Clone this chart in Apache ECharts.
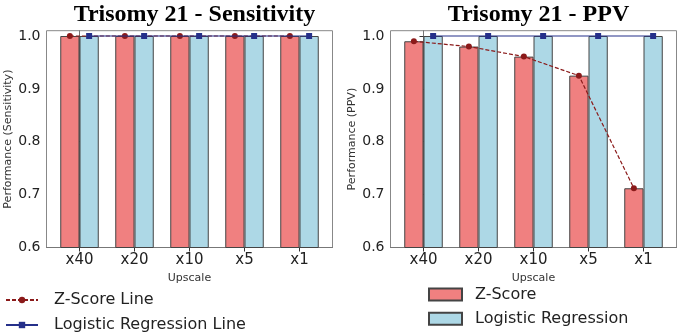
<!DOCTYPE html>
<html>
<head>
<meta charset="utf-8">
<script src="https://cdn.jsdelivr.net/npm/echarts@6/dist/echarts.min.js"></script>
<style>
  html, body { margin: 0; padding: 0; background: #fff; }
  #main { width: 680px; height: 334px; }
</style>
</head>
<body>
<div id="main"></div>
<script>
// data
var categories = ['x40', 'x20', 'x10', 'x5', 'x1'];
var sensZScore = [1.0, 1.0, 1.0, 1.0, 1.0];
var sensLogReg = [1.0, 1.0, 1.0, 1.0, 1.0];
var ppvZScore = [0.99, 0.98, 0.961, 0.925, 0.712];
var ppvLogReg = [1.0, 1.0, 1.0, 1.0, 1.0];
var yTicks = [0.6, 0.7, 0.8, 0.9, 1.0];

var RED = '#f08080', BLUE = '#add8e6';
var ZLINE = '#8b1a1a', LLINE = '#25308a';
var EDGE = '#444';
var FONT = 'DejaVu Sans';
var OFF = 0.175;          // half of one bar, in category units
var GRID_W = 286;
var BAR_PX = GRID_W / 5.2 * 0.35;

var chart = echarts.init(document.getElementById('main'));

function xAxis(idx) {
  var idxs = categories.map(function (c, i) { return i; });
  return {
    type: 'value', gridIndex: idx, min: -0.6, max: 4.6,
    name: 'Upscale', nameLocation: 'middle', nameGap: 19,
    nameTextStyle: { fontFamily: FONT, fontSize: 11, color: '#333' },
    axisLine: { show: true, lineStyle: { color: '#777' } },
    axisTick: { show: true, length: 4, customValues: idxs, lineStyle: { color: '#333' } },
    axisLabel: {
      customValues: idxs, margin: 5,
      fontFamily: FONT, fontSize: 15, color: '#222',
      formatter: function (v) { return categories[Math.round(v)]; }
    },
    splitLine: { show: false }
  };
}

function yAxis(idx, name) {
  return {
    type: 'value', gridIndex: idx, min: 0.6, max: 1.01,
    name: name, nameLocation: 'middle', nameGap: 33, nameRotate: 90,
    nameTextStyle: { fontFamily: FONT, fontSize: 11, color: '#333' },
    axisLine: { show: true, lineStyle: { color: '#777' } },
    axisTick: { show: true, length: 4, customValues: yTicks, lineStyle: { color: '#333' } },
    axisLabel: {
      customValues: yTicks, margin: 6,
      fontFamily: FONT, fontSize: 14, color: '#222',
      formatter: function (v) { return v.toFixed(1); }
    },
    splitLine: { show: false }
  };
}

function seriesFor(idx, zs, lr) {
  return [
    {
      name: 'Z-Score', type: 'bar', xAxisIndex: idx, yAxisIndex: idx,
      barWidth: BAR_PX, barGap: '0%',
      itemStyle: { color: RED, borderColor: EDGE, borderWidth: 1 },
      data: zs.map(function (v, i) { return [i, v]; })
    },
    {
      name: 'Logistic Regression', type: 'bar', xAxisIndex: idx, yAxisIndex: idx,
      barWidth: BAR_PX, barGap: '0%',
      itemStyle: { color: BLUE, borderColor: EDGE, borderWidth: 1 },
      data: lr.map(function (v, i) { return [i, v]; })
    },
    {
      name: 'Z-Score Line', type: 'line', xAxisIndex: idx, yAxisIndex: idx,
      symbol: 'circle', symbolSize: 6, z: 5,
      lineStyle: { color: ZLINE, width: 1.2, type: [4, 2] },
      itemStyle: { color: ZLINE },
      data: zs.map(function (v, i) { return [i - OFF, v]; })
    },
    {
      name: 'Logistic Regression Line', type: 'line', xAxisIndex: idx, yAxisIndex: idx,
      symbol: 'rect', symbolSize: 6, z: 6,
      lineStyle: { color: LLINE, width: 1.2 },
      itemStyle: { color: LLINE },
      data: lr.map(function (v, i) { return [i + OFF, v]; })
    }
  ];
}

function legendItem(name, left, top, pad, opts) {
  var l = {
    data: [name], left: left, top: top, padding: 0,
    itemWidth: 32, itemHeight: 8,
    textStyle: { fontFamily: FONT, fontSize: 16, color: '#222', padding: [0, 0, 0, pad] }
  };
  for (var k in opts) l[k] = opts[k];
  return l;
}

var option = {
  animation: false,
  title: [
    { text: 'Trisomy 21 - Sensitivity', left: 189.5, textAlign: 'center', top: -2,
      textStyle: { fontFamily: 'Liberation Serif', fontWeight: 'bold', fontSize: 24, color: '#000' } },
    { text: 'Trisomy 21 - PPV', left: 533.5, textAlign: 'center', top: -2,
      textStyle: { fontFamily: 'Liberation Serif', fontWeight: 'bold', fontSize: 24, color: '#000' } }
  ],
  grid: [
    { left: 46.5, top: 30.7, width: GRID_W, height: 216.8, show: true, borderColor: '#888', borderWidth: 1, backgroundColor: 'transparent' },
    { left: 390.5, top: 30.7, width: GRID_W, height: 216.8, show: true, borderColor: '#888', borderWidth: 1, backgroundColor: 'transparent' }
  ],
  legend: [
    legendItem('Z-Score Line', 5, 292, 11, {}),
    legendItem('Logistic Regression Line', 5, 317, 11, {}),
    legendItem('Z-Score', 428, 286.5, 8, { icon: 'rect', itemWidth: 33, itemHeight: 12 }),
    legendItem('Logistic Regression', 428, 310.8, 8, { icon: 'rect', itemWidth: 33, itemHeight: 12 })
  ],
  xAxis: [xAxis(0), xAxis(1)],
  yAxis: [yAxis(0, 'Performance (Sensitivity)'), yAxis(1, 'Performance (PPV)')],
  series: seriesFor(0, sensZScore, sensLogReg).concat(seriesFor(1, ppvZScore, ppvLogReg))
};

chart.setOption(option);
</script>
</body>
</html>
